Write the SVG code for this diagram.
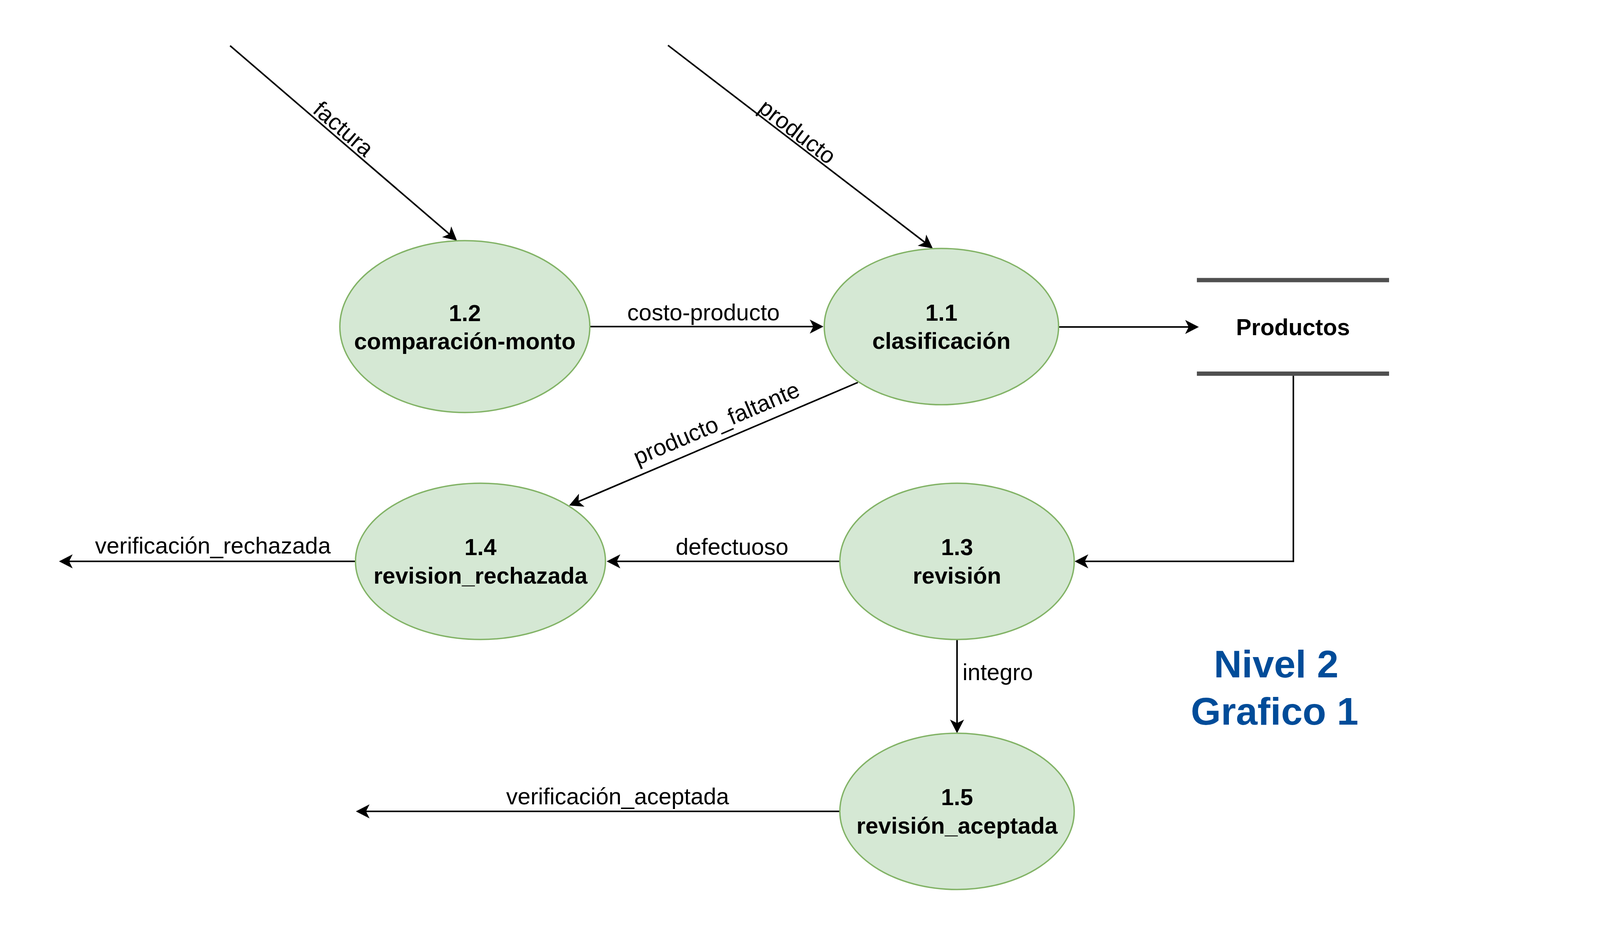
<svg xmlns="http://www.w3.org/2000/svg" width="4131" height="2373" viewBox="0 0 4131 2373">
<defs>
<style>
.proc{fill:#d5e8d4;stroke:#82b366;stroke-width:3.5}
.edge{fill:none;stroke:#000;stroke-width:4}
.bold{font-family:"Liberation Sans",Arial,Helvetica,sans-serif;font-size:59px;font-weight:bold;fill:#000;text-anchor:middle}
.lbl{font-family:"Liberation Sans",Arial,Helvetica,sans-serif;font-size:59px;fill:#000;text-anchor:middle}
.bar{stroke:#505050;stroke-width:11}
.title{font-family:"Liberation Sans",Arial,Helvetica,sans-serif;font-size:99px;font-weight:bold;fill:#004c99;text-anchor:middle}
</style>
<marker id="arr" markerUnits="userSpaceOnUse" viewBox="-20 -20 45 40" markerWidth="45" markerHeight="40" refX="0" refY="0" orient="auto">
<path d="M20,0 L-15,-18 L-6,0 L-15,18 Z" fill="#000"/>
</marker>
</defs>
<rect width="4131" height="2373" fill="#fff"/>

<g id="connectors">
<path class="edge" d="M589,117 L1154.8,603" marker-end="url(#arr)"/>
<path class="edge" d="M1710,116 L2372.1,623.8" marker-end="url(#arr)"/>
<path class="edge" d="M1510,836 L2088,836" marker-end="url(#arr)"/>
<path class="edge" d="M2710,837 L3049,837" marker-end="url(#arr)"/>
<path class="edge" d="M2196,979 L1475.4,1286.2" marker-end="url(#arr)"/>
<path class="edge" d="M3311,962 L3311,1437 L2771,1437" marker-end="url(#arr)"/>
<path class="edge" d="M2150,1437 L1573,1437" marker-end="url(#arr)"/>
<path class="edge" d="M910,1437 L171,1437" marker-end="url(#arr)"/>
<path class="edge" d="M2450,1637 L2450,1857" marker-end="url(#arr)"/>
<path class="edge" d="M2150,2077 L931,2077" marker-end="url(#arr)"/>
<text class="lbl" transform="translate(866,345) rotate(40.7)">factura</text>
<text class="lbl" transform="translate(2029,353) rotate(37.5)">producto</text>
<text class="lbl" x="1801" y="820">costo-producto</text>
<text class="lbl" transform="translate(1842,1102) rotate(-23.1)">producto_faltante</text>
<text class="lbl" x="1874" y="1420">defectuoso</text>
<text class="lbl" x="545" y="1417">verificación_rechazada</text>
<text class="lbl" x="2464" y="1741" style="text-anchor:start">integro</text>
<text class="lbl" x="1581" y="2059">verificación_aceptada</text>
</g>

<g id="node-1-2">
<ellipse class="proc" cx="1190" cy="836" rx="320" ry="220"/>
<text class="bold" x="1190" y="822">1.2</text>
<text class="bold" x="1190" y="894">comparación-monto</text>
</g>

<g id="node-1-1">
<ellipse class="proc" cx="2410" cy="836" rx="300" ry="200"/>
<text class="bold" x="2410" y="821">1.1</text>
<text class="bold" x="2410" y="893">clasificación</text>
</g>

<g id="node-productos">
<line class="bar" x1="3064" y1="717" x2="3556" y2="717"/>
<line class="bar" x1="3064" y1="956.5" x2="3556" y2="956.5"/>
<text class="bold" x="3310" y="858">Productos</text>
</g>

<g id="node-1-4">
<ellipse class="proc" cx="1230" cy="1437" rx="320" ry="200"/>
<text class="bold" x="1230" y="1421">1.4</text>
<text class="bold" x="1230" y="1494">revision_rechazada</text>
</g>

<g id="node-1-3">
<ellipse class="proc" cx="2450" cy="1437" rx="300" ry="200"/>
<text class="bold" x="2450" y="1421">1.3</text>
<text class="bold" x="2450" y="1494">revisión</text>
</g>

<g id="node-1-5">
<ellipse class="proc" cx="2450" cy="2077" rx="300" ry="200"/>
<text class="bold" x="2450" y="2061">1.5</text>
<text class="bold" x="2450" y="2134">revisión_aceptada</text>
</g>

<g id="title">
<text class="title" x="3267" y="1734">Nivel 2</text>
<text class="title" x="3263" y="1855">Grafico 1</text>
</g>
</svg>
